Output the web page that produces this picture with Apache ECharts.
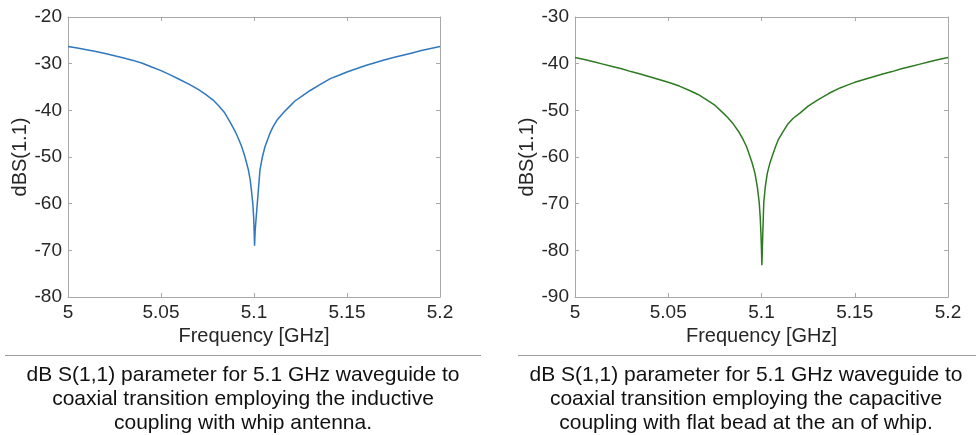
<!DOCTYPE html>
<html>
<head>
<meta charset="utf-8">
<script src="https://cdn.jsdelivr.net/npm/echarts@6/dist/echarts.min.js"></script>
<style>
  html, body { margin: 0; padding: 0; background: #fff; }
  #main { width: 976px; height: 435px; }
</style>
</head>
<body>
<div id="main"></div>
<script>
// inductive coupling (left plot)
var freqInductive = [5.000, 5.005, 5.010, 5.015, 5.020, 5.025, 5.030, 5.035, 5.040, 5.045, 5.050, 5.055, 5.060, 5.065, 5.070, 5.074,
    5.078, 5.081, 5.084, 5.087, 5.090, 5.092, 5.0934, 5.095, 5.097, 5.098, 5.0988, 5.0994, 5.0998, 5.1001, 5.1003,
    5.1006, 5.1012, 5.1022, 5.1032, 5.1045, 5.1059, 5.1085, 5.110, 5.1122, 5.116, 5.119, 5.122, 5.126, 5.130, 5.135,
    5.141, 5.145, 5.150, 5.155, 5.160, 5.165, 5.170, 5.175, 5.180, 5.185, 5.190, 5.195, 5.200];
var dbInductive = [-26.3, -26.65, -27.0, -27.4, -27.8, -28.3, -28.8, -29.3, -29.9, -30.7, -31.5, -32.4, -33.4, -34.4, -35.5, -36.6,
    -37.8, -39.0, -40.4, -42.4, -44.6, -46.4, -47.8, -49.8, -52.8, -55.0, -57.8, -60.2, -62.8, -66.0, -69.0,
    -66.0, -62.8, -57.8, -52.8, -50.0, -47.8, -45.0, -43.7, -42.2, -40.4, -39.2, -38.0, -36.9, -35.8, -34.6,
    -33.2, -32.6, -31.8, -31.1, -30.4, -29.8, -29.2, -28.7, -28.2, -27.7, -27.2, -26.75, -26.3];

// capacitive coupling (right plot)
var freqCapacitive = [5.000, 5.005, 5.010, 5.015, 5.020, 5.025, 5.030, 5.035, 5.040, 5.045, 5.050, 5.056, 5.0617, 5.066, 5.070, 5.075,
    5.0795, 5.082, 5.085, 5.088, 5.0902, 5.092, 5.0935, 5.095, 5.0965, 5.0978, 5.0988, 5.0993, 5.0997, 5.1000, 5.1002,
    5.1005, 5.1007, 5.1012, 5.102, 5.1031, 5.1045, 5.106, 5.1075, 5.109, 5.1115, 5.114, 5.117, 5.1206, 5.125, 5.130,
    5.136, 5.1421, 5.146, 5.150, 5.155, 5.160, 5.165, 5.170, 5.175, 5.180, 5.185, 5.190, 5.195, 5.200];
var dbCapacitive = [-38.7, -39.1, -39.6, -40.1, -40.6, -41.1, -41.7, -42.2, -42.8, -43.4, -44.0, -44.8, -45.8, -46.6, -47.6, -48.9,
    -50.6, -51.6, -53.0, -54.7, -56.3, -57.8, -59.5, -61.3, -63.5, -66.5, -69.9, -72.8, -76.4, -80.0, -83.2,
    -79.0, -76.4, -69.9, -66.5, -63.5, -61.3, -59.5, -57.8, -56.3, -54.6, -53.0, -51.7, -50.6, -49.1, -47.8,
    -46.4, -45.2, -44.6, -44.0, -43.4, -42.8, -42.2, -41.7, -41.1, -40.6, -40.1, -39.6, -39.1, -38.7];

var xTicks = [5, 5.05, 5.1, 5.15, 5.2];
var captionLeft = ['dB S(1,1) parameter for 5.1 GHz waveguide to', 'coaxial transition employing the inductive', 'coupling with whip antenna.'];
var captionRight = ['dB S(1,1) parameter for 5.1 GHz waveguide to', 'coaxial transition employing the capacitive', 'coupling with flat bead at the an of whip.'];

function pairs(xs, ys) {
    var out = [];
    for (var i = 0; i < xs.length; i++) out.push([xs[i], ys[i]]);
    return out;
}

var font = '"Liberation Sans", Arial, Helvetica, sans-serif';
var txt = '#262626';
var axisGray = '#a8a8a8';

function xAxes(gi) {
    var base = {
        type: 'value', gridIndex: gi, min: xTicks[0], max: xTicks[xTicks.length - 1], interval: 0.05,
        axisLine: { show: true, lineStyle: { color: axisGray, width: 1 } },
        axisTick: { show: true, inside: true, length: 4, lineStyle: { color: axisGray } },
        splitLine: { show: false }
    };
    var bottom = Object.assign({}, base, {
        position: 'bottom',
        name: 'Frequency [GHz]', nameLocation: 'middle', nameGap: 29,
        nameTextStyle: { fontFamily: font, fontSize: 20, color: txt },
        axisLabel: { margin: 6, fontFamily: font, fontSize: 19, color: txt }
    });
    var top = Object.assign({}, base, { position: 'top', axisLabel: { show: false } });
    return [bottom, top];
}

function yAxes(gi, lo, hi) {
    var base = {
        type: 'value', gridIndex: gi, min: lo, max: hi, interval: 10,
        axisLine: { show: true, onZero: false, lineStyle: { color: axisGray, width: 1 } },
        axisTick: { show: true, inside: true, length: 4, lineStyle: { color: axisGray } },
        splitLine: { show: false }
    };
    var left = Object.assign({}, base, {
        position: 'left',
        name: 'dBS(1.1)', nameLocation: 'middle', nameGap: 37, nameRotate: 90,
        nameTextStyle: { fontFamily: font, fontSize: 20, color: txt },
        axisLabel: { margin: 6, fontFamily: font, fontSize: 19, color: txt }
    });
    var right = Object.assign({}, base, { position: 'right', axisLabel: { show: false } });
    return [left, right];
}

var chart = echarts.init(document.getElementById('main'));
var option = {
    animation: false,
    backgroundColor: '#ffffff',
    grid: [
        { left: 68, top: 17, width: 372, height: 280 },
        { left: 575, top: 17, width: 373, height: 280 }
    ],
    xAxis: xAxes(0).concat(xAxes(1)),
    yAxis: yAxes(0, -80, -20).concat(yAxes(1, -90, -30)),
    series: [
        {
            type: 'line', xAxisIndex: 0, yAxisIndex: 0, showSymbol: false, smooth: false,
            data: pairs(freqInductive, dbInductive),
            lineStyle: { color: '#2f78bd', width: 1.5 }
        },
        {
            type: 'line', xAxisIndex: 2, yAxisIndex: 2, showSymbol: false, smooth: false,
            data: pairs(freqCapacitive, dbCapacitive),
            lineStyle: { color: '#2d7a22', width: 1.5 }
        }
    ],
    graphic: [
        { type: 'line', shape: { x1: 5, y1: 355.5, x2: 481, y2: 355.5 }, style: { stroke: '#9a9a9a', lineWidth: 1 } },
        { type: 'line', shape: { x1: 518, y1: 355.5, x2: 976, y2: 355.5 }, style: { stroke: '#9a9a9a', lineWidth: 1 } },
        {
            type: 'text', x: 243, y: 363,
            style: { text: captionLeft.join('\n'), textAlign: 'center', font: '21px ' + font, fill: '#111111', lineHeight: 24 }
        },
        {
            type: 'text', x: 746, y: 363,
            style: { text: captionRight.join('\n'), textAlign: 'center', font: '21px ' + font, fill: '#111111', lineHeight: 24 }
        }
    ]
};
chart.setOption(option);
</script>
</body>
</html>
